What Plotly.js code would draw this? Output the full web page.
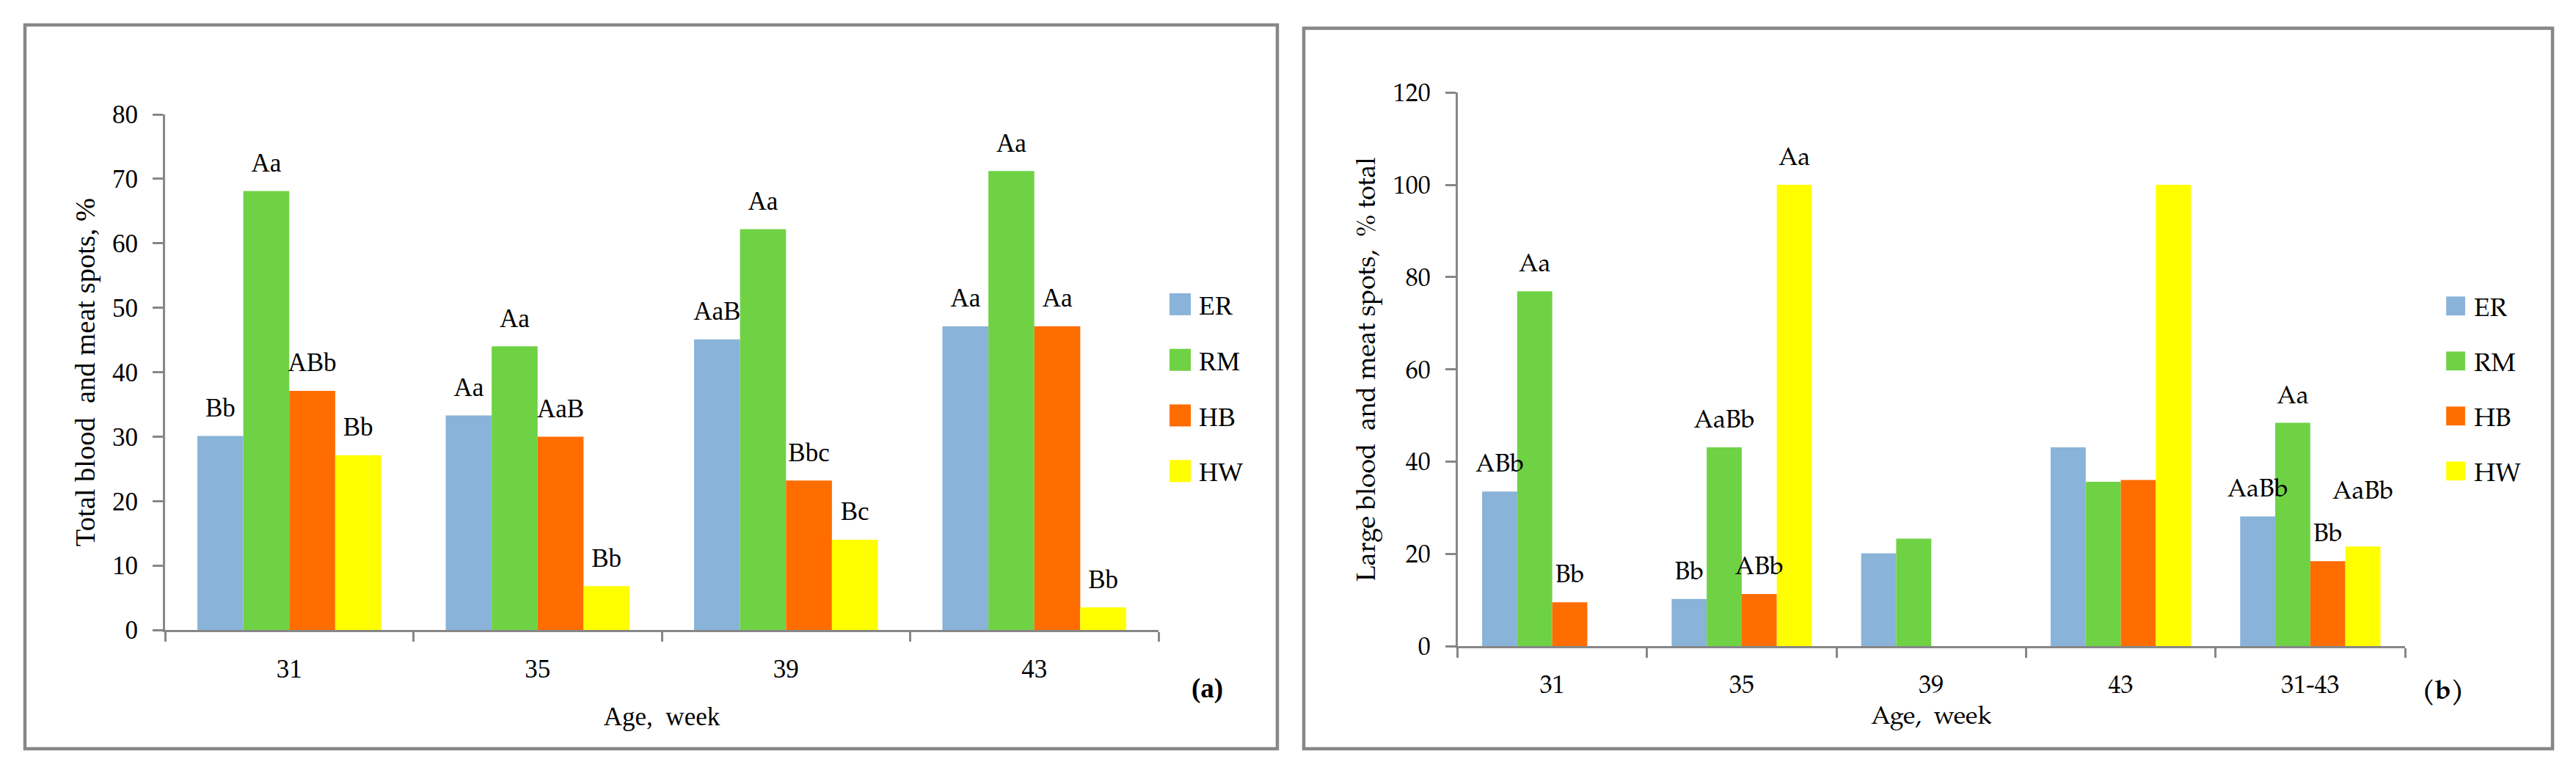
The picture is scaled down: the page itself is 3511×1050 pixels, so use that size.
<!DOCTYPE html>
<html><head><meta charset="utf-8">
<script src="https://cdn.plot.ly/plotly-3.0.1.min.js"></script>
<style>
html,body{margin:0;padding:0;background:#fff;}
#chart{width:3511px;height:1050px;}
.legendpoints path{transform:translate(14px,0) scale(2.5);}
.legend2 .legendpoints path{transform:translate(15px,0) scale(2.15);}
</style></head><body><div id="chart"></div>
<script>
// ---- data ----
const seriesNames = ['ER', 'RM', 'HB', 'HW'];
const seriesColors = ['#89B3D8', '#6FD244', '#FF6D00', '#FFFF00'];

// panel (a): Total blood and meat spots, %
const weeksA = ['31', '35', '39', '43'];
const erA = [30.1, 33.3, 45.1, 47.1];
const rmA = [68.1, 44.0, 62.2, 71.2];
const hbA = [37.1, 30.0, 23.2, 47.1];
const hwA = [27.1, 6.8, 14.0, 3.5];
const lettersA_ER = ['Bb', 'Aa', 'AaB', 'Aa'];
const lettersA_RM = ['Aa', 'Aa', 'Aa', 'Aa'];
const lettersA_HB = ['ABb', 'AaB', 'Bbc', 'Aa'];
const lettersA_HW = ['Bb', 'Bb', 'Bc', 'Bb'];

// panel (b): Large blood and meat spots, % total
const weeksB = ['31', '35', '39', '43', '31-43'];
const erB = [33.5, 10.2, 20.1, 43.1, 28.1];
const rmB = [76.9, 43.1, 23.3, 35.6, 48.4];
const hbB = [9.5, 11.3, null, 36.0, 18.4];
const hwB = [null, 100, null, 100, 21.6];
const lettersB_ER = ['ABb', 'Bb', '', '', 'AaBb'];
const lettersB_RM = ['Aa', 'AaBb', '', '', 'Aa'];
const lettersB_HB = ['Bb', 'ABb', '', '', 'Bb'];
const lettersB_HW = ['', 'Aa', '', '', 'AaBb'];

const titleA_y = 'Total blood&nbsp; and meat spots, %';
const titleB_y = 'Large blood&nbsp; and meat spots,&nbsp; % total';
const titleX = 'Age,&nbsp; week';
const panelA = '(a)';
const panelB = '(b)';

// ---- build ----
const fontA = 'Liberation Serif';
const fontB = 'TeX Gyre Pagella, Liberation Serif';
const valsA = [erA, rmA, hbA, hwA];
const lettersA = [lettersA_ER, lettersA_RM, lettersA_HB, lettersA_HW];
const valsB = [erB, rmB, hbB, hwB];
const lettersB = [lettersB_ER, lettersB_RM, lettersB_HB, lettersB_HW];
// label gap (invisible marker size) per label; the last HW label of (b) sits higher, as in the source
const labelGapB = [
  [28, 28, 28, 28, 28],
  [28, 28, 28, 28, 28],
  [28, 28, 28, 28, 28],
  [28, 28, 28, 28, 89]
];

const traces = [];
seriesNames.forEach((n, i) => {
  traces.push({type: 'bar', name: n, x: weeksA, y: valsA[i], xaxis: 'x', yaxis: 'y',
    marker: {color: seriesColors[i], line: {width: 0}}, legend: 'legend', legendgroup: 'a' + n,
    hoverinfo: 'skip'});
});
seriesNames.forEach((n, i) => {
  traces.push({type: 'scatter', mode: 'markers+text', orientation: 'v', x: weeksA, y: valsA[i],
    text: lettersA[i], textposition: 'top center', textfont: {family: fontA, size: 35, color: '#000'},
    marker: {size: 27, opacity: 0}, xaxis: 'x', yaxis: 'y', showlegend: false, hoverinfo: 'skip', cliponaxis: false});
});
seriesNames.forEach((n, i) => {
  traces.push({type: 'bar', name: n, x: weeksB, y: valsB[i], xaxis: 'x2', yaxis: 'y2',
    marker: {color: seriesColors[i], line: {width: 0}}, legend: 'legend2', legendgroup: 'b' + n,
    hoverinfo: 'skip'});
});
seriesNames.forEach((n, i) => {
  traces.push({type: 'scatter', mode: 'markers+text', orientation: 'v', x: weeksB, y: valsB[i].map(v => v === null ? 0 : v),
    text: lettersB[i], textposition: 'top center', textfont: {family: fontB, size: 34, color: '#000'},
    marker: {size: labelGapB[i], opacity: 0}, xaxis: 'x2', yaxis: 'y2', showlegend: false, hoverinfo: 'skip', cliponaxis: false});
});

const axisGray = '#878787';
const baseX = {type: 'category', showline: true, linecolor: axisGray, linewidth: 3, ticks: 'outside',
  tickson: 'boundaries', ticklen: 13, tickwidth: 3, tickcolor: axisGray, showgrid: false, zeroline: false,
  ticklabelstandoff: 20};
const baseY = {showline: true, linecolor: axisGray, linewidth: 3, ticks: 'outside', ticklen: 14,
  tickwidth: 3, tickcolor: axisGray, showgrid: false, zeroline: false, ticklabelstandoff: 13};

const W = 3511, H = 1050;
const px = v => v / W, py = v => 1 - v / H;

const layout = {
  width: W, height: H, margin: {l: 0, r: 0, t: 0, b: 0}, paper_bgcolor: '#fff', plot_bgcolor: 'rgba(0,0,0,0)',
  barmode: 'group', bargap: 0.26, bargroupgap: 0, scattermode: 'group', scattergap: 0.26,
  font: {family: fontA, color: '#000'},
  xaxis: Object.assign({}, baseX, {domain: [px(225), px(1579)], anchor: 'y',
    tickfont: {family: fontA, size: 35}, title: {text: titleX, font: {family: fontA, size: 35}, standoff: 34}}),
  yaxis: Object.assign({}, baseY, {domain: [py(859), py(156)], anchor: 'x', range: [0, 80], dtick: 10,
    tickfont: {family: fontA, size: 35}, title: {text: titleA_y, font: {family: fontA, size: 38.5}, standoff: 12}}),
  xaxis2: Object.assign({}, baseX, {domain: [px(1986.5), px(3278)], anchor: 'y2',
    tickfont: {family: fontB, size: 34}, title: {text: titleX, font: {family: fontB, size: 34}, standoff: 10}}),
  yaxis2: Object.assign({}, baseY, {domain: [py(881), py(126.3)], anchor: 'x2', range: [0, 120], dtick: 20,
    tickfont: {family: fontB, size: 34}, title: {text: titleB_y, font: {family: fontB, size: 35.5}, standoff: 14}}),
  legend: {x: px(1594), y: py(385), xanchor: 'left', yanchor: 'top', bgcolor: 'rgba(0,0,0,0)',
    font: {family: fontA, size: 36}, tracegroupgap: 26, itemclick: false},
  legend2: {x: px(3332), y: py(388), xanchor: 'left', yanchor: 'top', bgcolor: 'rgba(0,0,0,0)',
    font: {family: fontB, size: 35}, tracegroupgap: 26.5, itemclick: false},
  shapes: [
    {type: 'rect', xref: 'paper', yref: 'paper', x0: px(34), x1: px(1741), y0: py(1021), y1: py(34),
      line: {color: axisGray, width: 4.5}},
    {type: 'rect', xref: 'paper', yref: 'paper', x0: px(1777), x1: px(3479), y0: py(1021), y1: py(38.5),
      line: {color: axisGray, width: 4.5}}
  ],
  annotations: [
    {text: '<b>' + panelA + '</b>', xref: 'paper', yref: 'paper', x: px(1645), y: py(939),
      xanchor: 'center', yanchor: 'middle', showarrow: false, font: {family: fontA, size: 37}},
    {text: '<b>' + panelB + '</b>', xref: 'paper', yref: 'paper', x: px(3329), y: py(944),
      xanchor: 'center', yanchor: 'middle', showarrow: false, font: {family: fontB, size: 36}}
  ]
};

Plotly.newPlot('chart', traces, layout, {staticPlot: true, displayModeBar: false});
</script></body></html>
